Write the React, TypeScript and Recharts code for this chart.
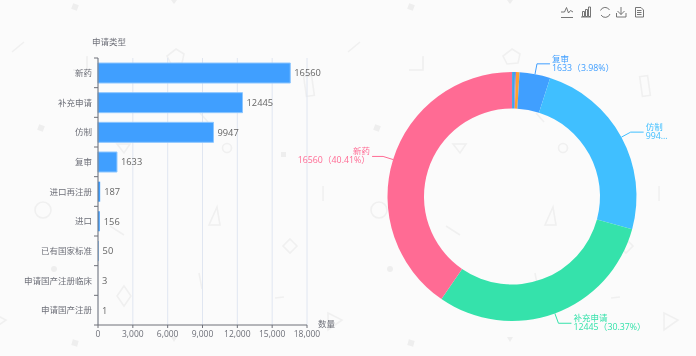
import React from "react";
import { Bar, BarChart, CartesianGrid, Cell, LabelList, Pie, PieChart, XAxis, YAxis } from "recharts";

const barCategories = ["新药", "补充申请", "仿制", "复审", "进口再注册", "进口", "已有国家标准", "申请国产注册临床", "申请国产注册"];
const barValues = [16560, 12445, 9947, 1633, 187, 156, 50, 3, 1];
const xTicks = [0, 3000, 6000, 9000, 12000, 15000, 18000];

// ring runs clockwise from 12 o'clock, thin slices first
const pieNames = ["申请国产注册", "申请国产注册临床", "进口", "已有国家标准", "进口再注册", "复审", "仿制", "补充申请", "新药"];
const pieValues = [1, 3, 156, 50, 187, 1633, 9947, 12445, 16560];
const pieColors = ["#ff9f7f", "#ffdb5c", "#3fa7e8", "#8378ea", "#ffa032", "#409fff", "#40bfff", "#35e2ab", "#ff6b94"];
const labelledSlices = ["复审", "仿制", "补充申请", "新药"];
const truncatedValues: Record<string, string> = { 仿制: "994..." };

const barData = barCategories.map((name, i) => ({ name, value: barValues[i] }));
const pieData = pieNames.map((name, i) => ({ name, value: pieValues[i] }));
const pieTotal = pieValues.reduce((a, b) => a + b, 0);

const FONT = "'Open Sans', 'Noto Sans CJK SC', sans-serif";
const AXIS_COLOR = "#6e7079";
const PLOT_TOP = 58;
const PLOT_BOTTOM = 325;
const BAND = (PLOT_BOTTOM - PLOT_TOP) / barCategories.length;

function CategoryTick({ x, y, payload, index }: any) {
  return (
    <g>
      <text x={x} y={y} dy={3} textAnchor="end" fontSize={8.5} fontFamily={FONT} fill={AXIS_COLOR}>
        {payload.value}
      </text>
      <line x1={x + 2} x2={x + 6} y1={y - BAND / 2} y2={y - BAND / 2} stroke={AXIS_COLOR} />
      {index === barCategories.length - 1 && (
        <line x1={x + 2} x2={x + 6} y1={y + BAND / 2} y2={y + BAND / 2} stroke={AXIS_COLOR} />
      )}
    </g>
  );
}

function SliceLabel({ cx, cy, midAngle, outerRadius, name, value, index }: any) {
  const sliceName = name ?? pieNames[index];
  if (!labelledSlices.includes(sliceName)) return null;
  const color = pieColors[index];
  const rad = (-midAngle * Math.PI) / 180;
  const px = cx + outerRadius * Math.cos(rad);
  const py = cy + outerRadius * Math.sin(rad);
  const ex = cx + (outerRadius + 10.5) * Math.cos(rad);
  const ey = cy + (outerRadius + 10.5) * Math.sin(rad);
  const right = Math.cos(rad) >= 0;
  const hx = ex + (right ? 13 : -11);
  const tx = hx + (right ? 2 : -2);
  const second = truncatedValues[sliceName] ?? `${value}（${((value / pieTotal) * 100).toFixed(2)}%）`;
  return (
    <g>
      <polyline points={`${px},${py} ${ex},${ey} ${hx},${ey}`} fill="none" stroke={color} strokeWidth={1} />
      <text x={tx} y={ey - 2} textAnchor={right ? "start" : "end"} fontSize={8.5} fontFamily={FONT} fill={color}>
        {sliceName}
      </text>
      <text x={tx} y={ey + 7} textAnchor={right ? "start" : "end"} fontSize={8.8} fontFamily={FONT} fill={color}>
        {second}
      </text>
    </g>
  );
}

// the page's faint wallpaper, one tile repeats every 336px
function Wallpaper() {
  const tile = (
    <g fill="none" stroke="#f0f0f0" strokeWidth={1.6}>
      <path d="M12 52L24 42M87 56V69M200 113L208 122M110 226L124 235M323 186V201M199 273L202 289M275 298L284 297" />
      <path d="M176 49L184 54L182 63L171 64L167 56Z" />
      <rect x={305} y={76} width={8} height={20} transform="rotate(-8 309 86)" />
      <path d="M117 144H130L124 153Z" />
      <circle cx={227} cy={148} r={4.5} />
      <circle cx={43} cy={210} r={8} />
      <path d="M209 225H220L217 207Z" />
      <path d="M290 239L297 246L290 253L283 246Z" />
      <path d="M124 286L131 296L124 306L117 296Z" />
      <path d="M328 313L342 320L328 330Z" />
      <path d="M73 70H87V57" />
      <g fill="#eeeeee" stroke="none">
        <rect x={72} y={4} width={6} height={6} transform="rotate(20 75 7)" />
        <rect x={38} y={125} width={6} height={6} transform="rotate(20 41 128)" />
        <rect x={281} y={152} width={5} height={5} />
        <circle cx={54} cy={269} r={3} />
        <rect x={72} y={340} width={6} height={6} transform="rotate(15 75 343)" />
        <path d="M171 0H177L174 4Z" />
        <path d="M171 337H177L174 342Z" />
      </g>
    </g>
  );
  return (
    <svg width={696} height={356} style={{ position: "absolute", left: 0, top: 0 }}>
      <g transform="translate(-336 0)">{tile}</g>
      {tile}
      <g transform="translate(336 0)">{tile}</g>
    </svg>
  );
}

function Overlay() {
  return (
    <svg width={696} height={356} style={{ position: "absolute", left: 0, top: 0, pointerEvents: "none" }}>
      <text x={92} y={45} fontSize={8.5} fontFamily={FONT} fill={AXIS_COLOR}>申请类型</text>
      <text x={318} y={327} fontSize={8.5} fontFamily={FONT} fill={AXIS_COLOR}>数量</text>
      <g fill="none" stroke="#666" strokeWidth={0.9}>
        <path d="M561 17.5H573M561 12H564.5L566.5 7.5L568.5 13L570.5 10.5L573 12" />
        <path d="M581 17H591M582.5 11.5H584.5V16.5H582.5ZM585.5 9.5H587.5V16.5H585.5ZM588.5 7H590.5V16.5H588.5Z" />
        <path d="M600.5 10.5A5 5 0 0 1 609.5 10M610 14A5 5 0 0 1 601 15" />
        <path d="M621 7V14.5M617.5 11L621 14.5L624.5 11M616.5 13V17H626V13" />
        <path d="M635.5 7.5H641L643.5 10V17H635.5ZM637 10.5H641.5M637 12.5H641.5M637 14.5H641.5" />
      </g>
    </svg>
  );
}

export default function App() {
  return (
    <div
      style={{
        position: "absolute",
        left: 0,
        top: 0,
        width: 696,
        height: 356,
        overflow: "hidden",
        background: "#fbfbfb",
        filter: "blur(0.35px)",
      }}
    >
      <Wallpaper />
      <div style={{ position: "absolute", left: 0, top: 0 }}>
        <BarChart
          width={696}
          height={356}
          data={barData}
          layout="vertical"
          margin={{ top: PLOT_TOP, right: 389, bottom: 356 - PLOT_BOTTOM - 20, left: 0 }}
        >
          <CartesianGrid horizontal={false} stroke="#e0e6f1" />
          <XAxis
            type="number"
            domain={[0, 18000]}
            ticks={xTicks}
            height={20}
            interval={0}
            tickFormatter={(v: number) => v.toLocaleString("en-US")}
            tick={{ fill: AXIS_COLOR, fontSize: 8.5, fontFamily: FONT }}
            tickSize={3}
            tickMargin={3}
            stroke={AXIS_COLOR}
          />
          <YAxis
            type="category"
            dataKey="name"
            width={98}
            interval={0}
            tick={<CategoryTick />}
            tickLine={false}
            tickSize={0}
            tickMargin={6}
            stroke={AXIS_COLOR}
          />
          <Bar dataKey="value" fill="#409fff" barSize={20} isAnimationActive={false}>
            {barCategories.map((name, i) => (
              <Cell
                key={name}
                stroke={barValues[i] >= 1000 ? "#8cc6ff" : "none"}
                fill={barValues[i] >= 10 ? "#409fff" : "none"}
              />
            ))}
            <LabelList dataKey="value" position="right" offset={4} fill="#666" fontSize={9.3} fontFamily={FONT} />
          </Bar>
        </BarChart>
      </div>
      <div style={{ position: "absolute", left: 0, top: 0 }}>
        <PieChart width={696} height={356} margin={{ top: 0, right: 0, bottom: 0, left: 0 }}>
          <Pie
            data={pieData}
            dataKey="value"
            nameKey="name"
            cx={512}
            cy={196.5}
            innerRadius={88}
            outerRadius={124.5}
            startAngle={90}
            endAngle={-270}
            stroke="none"
            label={(props: any) => <SliceLabel {...props} />}
            labelLine={false}
            isAnimationActive={false}
          >
            {pieNames.map((name, i) => (
              <Cell key={name} fill={pieColors[i]} />
            ))}
          </Pie>
        </PieChart>
      </div>
      <Overlay />
    </div>
  );
}
